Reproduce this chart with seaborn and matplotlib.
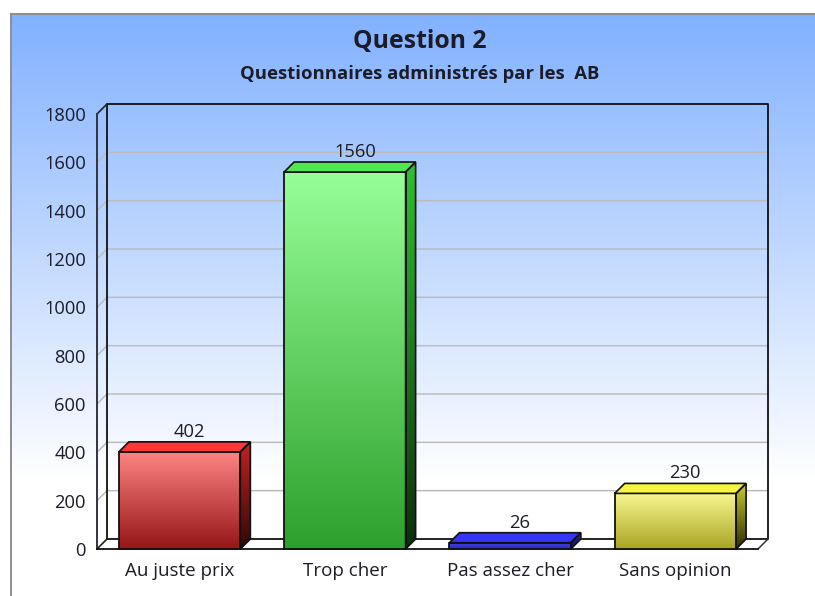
import numpy as np
import seaborn as sns
import matplotlib.pyplot as plt
from matplotlib.colors import LinearSegmentedColormap
from matplotlib.patches import Polygon

categories = ["Au juste prix", "Trop cher", "Pas assez cher", "Sans opinion"]
values = [402, 1560, 26, 230]
yticks = [0, 200, 400, 600, 800, 1000, 1200, 1400, 1600, 1800]

front_cols = [("#ff8484", "#961616"), ("#98ff98", "#2ca02c"), ("#4343ee", "#2a2ab8"), ("#f8f890", "#a9a422")]
top_cols = ["#ff3636", "#50e850", "#3636f8", "#f6f640"]
side_cols = [("#c42222", "#2e0808"), ("#30c030", "#0e2c0e"), ("#2828c0", "#101050"), ("#cccc30", "#2c2c08")]

W, H = 815, 596
sns.set_style("white")
plt.rcParams['font.family'] = ['Open Sans', 'DejaVu Sans']
text_col = "#1c1c28"

fig = plt.figure(figsize=(W / 100, H / 100), dpi=100, facecolor="white")


def px_axes(x0, y0, x1, y1, **kw):
    # pixel box measured from the top left of the picture
    return fig.add_axes([x0 / W, 1 - y1 / H, (x1 - x0) / W, (y1 - y0) / H], **kw)


# background
bg = px_axes(10.5, 13.5, W + 2, H + 2)
bg_cmap = LinearSegmentedColormap.from_list("bg", ["#82b1ff", "#ffffff"])
grad = np.clip(np.linspace(0, (H - 13) / 467, 400), 0, 1).reshape(-1, 1)
bg.imshow(grad, cmap=bg_cmap, vmin=0, vmax=1, aspect="auto")
bg.set_xticks([])
bg.set_yticks([])
for name in ["top", "left"]:
    bg.spines[name].set_color("#8e8e8e")
    bg.spines[name].set_linewidth(1.4)
for name in ["right", "bottom"]:
    bg.spines[name].set_visible(False)

# front plane of the chart
ax = px_axes(97, 114, 758, 549)
ax.patch.set_alpha(0)
dx = 10 / (661 / 4)
dy = 10 * 1800 / 435
XMIN, XMAX = -0.5, 3.5

sns.barplot(x=categories, y=values, hue=categories, palette=[c[0] for c in front_cols],
            width=0.735, legend=False, ax=ax, zorder=5)


def gradient(cols, extent, clip, z):
    cm = LinearSegmentedColormap.from_list("g", list(cols))
    im = ax.imshow(np.linspace(0, 1, 256).reshape(-1, 1), cmap=cm, aspect="auto",
                   extent=extent, zorder=z, origin="upper")
    im.set_clip_path(clip)
    im.set_clip_box(fig.bbox)


# walls, floor, grid
for v in yticks[1:-1]:
    ax.plot([XMIN, XMIN + dx, XMAX + dx], [v, v + dy, v + dy], color="#bcbcbc", lw=1.1,
            clip_on=False, zorder=1, solid_joinstyle="miter")
ax.plot([XMIN + dx, XMIN + dx, XMAX + dx, XMAX + dx, XMIN + dx],
        [dy, 1800 + dy, 1800 + dy, dy, dy], color="#111111", lw=1.3, clip_on=False, zorder=2)
ax.plot([XMIN, XMIN + dx], [1800, 1800 + dy], color="#222222", lw=1.2, clip_on=False, zorder=2)
ax.plot([XMIN, XMIN + dx], [0, dy], color="#222222", lw=1.2, clip_on=False, zorder=2)
ax.plot([XMAX, XMAX + dx], [0, dy], color="#333333", lw=1.1, clip_on=False, zorder=2)

# bars with their top and side faces
for i, bar in enumerate(ax.patches):
    x0, x1 = bar.get_x(), bar.get_x() + bar.get_width()
    v = values[i]
    bar.set_facecolor("none")
    bar.set_edgecolor("#111111")
    bar.set_linewidth(1.3)
    bar.set_clip_on(False)
    bar.set_zorder(6)
    gradient(front_cols[i], (x0, x1, 0, v), bar, 4)

    top = Polygon([(x0, v), (x0 + dx, v + dy), (x1 + dx, v + dy), (x1, v)], closed=True,
                  facecolor=top_cols[i], edgecolor="#111111", lw=1.2, clip_on=False, zorder=6)
    ax.add_patch(top)

    side = Polygon([(x1, 0), (x1 + dx, dy), (x1 + dx, v + dy), (x1, v)], closed=True,
                   facecolor="none", edgecolor="#111111", lw=1.2, clip_on=False, zorder=6)
    ax.add_patch(side)
    gradient(side_cols[i], (x1, x1 + dx, 0, v + dy), side, 4)

    ax.annotate(str(v), (i, v), xytext=(10, 20), textcoords="offset pixels", ha="center",
                va="center", fontsize=13.2, color=text_col, annotation_clip=False)

ax.set_xlim(XMIN, XMAX)
ax.set_ylim(0, 1800)
ax.set_yticks(yticks)
ax.tick_params(axis="both", length=0, labelcolor=text_col)
ax.tick_params(axis="y", labelsize=13.2, pad=8)
ax.tick_params(axis="x", labelsize=13.5, pad=9)
ax.set_xlabel("")
ax.set_ylabel("")
sns.despine(ax=ax, top=True, right=True)
ax.spines["left"].set_color("#333340")
ax.spines["left"].set_linewidth(1.4)
ax.spines["bottom"].set_color("#111111")
ax.spines["bottom"].set_linewidth(1.3)

fig.text(420 / W, 1 - 42 / H, "Question 2", ha="center", va="center", fontsize=17.8,
         fontweight="bold", color=text_col)
fig.text(420 / W, 1 - 74 / H, "Questionnaires administrés par les  AB", ha="center", va="center",
         fontsize=13.3, fontweight="bold", color=text_col)

fig.savefig("out.png", dpi=100)
